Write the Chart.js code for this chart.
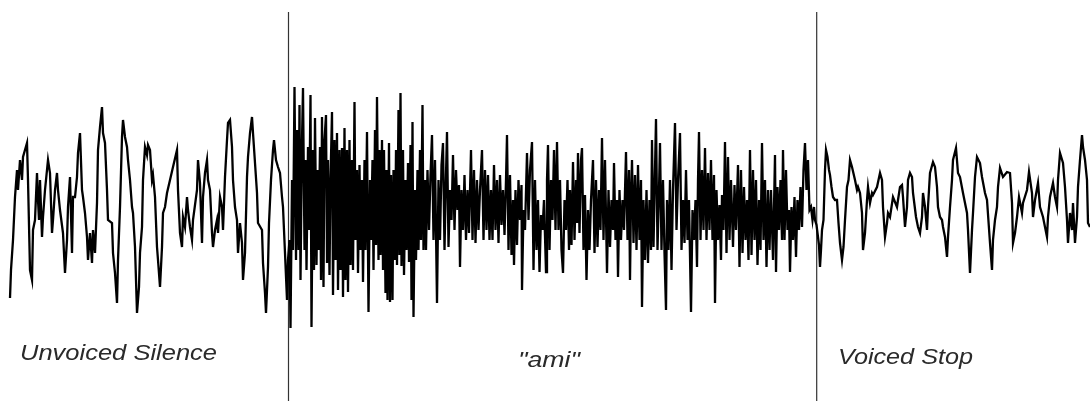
<!DOCTYPE html>
<html>
<head>
<meta charset="utf-8">
<script src="https://cdn.jsdelivr.net/npm/chart.js@4/dist/chart.umd.min.js"></script>
<style>
html,body{margin:0;padding:0;background:#fff;}
#wrap{width:1090px;height:401px;}
</style>
</head>
<body>
<div id="wrap"><canvas id="c" width="1090" height="401"></canvas></div>
<script>
// Segment labels and boundaries (time units)
const segmentLabels = ['Unvoiced Silence', '"ami"', 'Voiced Stop'];
const boundaries = [288.5, 816.7];

// Unvoiced silence
const silenceTime = [10,11,13,15,17,18,20,22,23,27,28,30,32,33,35,37,38,39,40,42,43,45,48,50,52,53,55,57,58,60,63,65,67,68,70,72,73,75,77,78,80,82,83,85,87,88,90,92,93,95,97,98,100,102,103,105,107,108,112,113,115,117,118,120,122,123,125,127,128,130,132,133,135,137,139,140,142,143,145,147,148,150,152,153,155,157,158,160,162,163,165,167,170,173,177,178,180,182,183,185,187,188,190,192,193,197,198,200,202,203,205,207,208,210,212,213,215,217,218,220,222,223,225,227,228,230,232,233,235,237,238,240,242,243,245,247,248,250,252,253,255,257,258,262,263,265,266,268,269,271,273,274,276,278,280,282,283,285,287,288];
const silenceAmp = [-98,-70,-40,3,30,10,40,20,43,57,20,-70,-80,-30,-20,27,0,-20,20,-37,-17,10,40,27,-33,-20,10,27,10,-10,-33,-73,-40,-7,23,-53,3,3,23,47,67,10,3,-13,-37,-60,-33,-63,-30,-53,-3,50,73,93,67,57,10,-20,-23,-53,-73,-103,-60,-7,63,80,63,53,40,20,-7,-13,-47,-113,-87,-53,-27,20,53,45,55,50,20,25,3,-47,-60,-87,-47,-13,-7,7,20,33,50,10,-33,-47,-17,-27,3,-10,-27,-40,-20,10,40,17,-43,3,27,40,20,10,-33,-47,-30,-20,-33,3,-7,-30,23,60,77,80,53,20,-7,-20,-53,-23,-43,-80,-53,23,43,67,83,67,37,7,-23,-30,-63,-93,-113,-67,-23,20,50,60,40,33,27,3,-7,-53,-100,-60];

// "ami"
const amiTime = [289.5,290.5,292,293,294.5,296,297,298.5,299.5,300.5,302,303,304.5,305.5,306.5,308,309,310.5,311.5,313,314,315,316.5,317.5,318.5,320,321,322,323.5,324.5,326,327,328,329.5,330.5,332,333,334.5,335.5,337,338,339.5,340.5,342,343,344.5,345.5,347,348,349.5,350.5,352,353,354.5,355.5,357,358,359.5,360.5,362,363,364.5,365.5,367,368.5,370,371,372.5,373.5,375,376,377,378.5,379.5,380.5,382,383,384,385.5,386.5,387.5,389,390,391,392.5,393.5,395,396,397,398.5,399.5,400.5,401.5,403,404,405.5,406.5,408,409,410.5,411.5,412.5,413.5,415,416,417.5,418.5,420,421,422.5,423.5,425,426,427.5,429,430.5,432,433.5,435,437,438.5,440,441.5,443,444.5,446,447,448.5,450,451.5,453,454.5,456,457.5,459,460,461.5,463,464.5,466,467.5,469,471,472.5,474,475.5,477,478.5,480,482,483.5,485,486.5,488,489.5,491,492.5,494,495.5,497,498.5,500,501.5,503,504.5,506,507,508.5,510,511.5,513,514,515.5,517,518.5,520,521.5,522,523.5,525,527,528.5,530,532,533.5,535,536.5,538,539.5,541,542.5,544,546,547,548,549.5,551,552.5,554,555.5,557,558.5,560,561.5,563,564.5,566,567.5,569,570,571.5,573,574.5,576,577,578,579.5,581,582,583.5,585,586.5,588,589.5,591,593,594.5,596,597.5,599,600.5,602,603.5,605,607,608.5,610,611.5,613,614,615.5,617,618,619.5,621,622.5,624,626,627.5,629,630,631,632,633.5,635,636.5,638,639.5,641,642,643.5,645,646.5,648,649.5,651,652,653.5,655,656,657.5,659,660,661.5,663,664.5,666,667,668.5,670,671.5,673,675,676.5,678,680,681.5,683,684.5,686,687.5,689,691,692.5,694,695.5,697,698,699,700.5,702,703.5,705,706.5,708,709.5,711,712.5,714,715,716.5,718,719.5,721,722,723.5,725,726.5,728,729.5,731,733,734.5,736,738,739.5,741,742.5,744,745.5,747,748.5,750,751.5,753,754.5,756,757.5,759,760.5,762,763.5,765,766.5,768,769.5,771,773,775,776,777.5,779,780.5,782,783,784.5,786,787.5,789,790,791.5,793,794.5,796,797.5,799,800.5,802,803.5,805,806.5,808,809.5,811,812.5,814,815,816.5];
const amiAmp = [-40,-128,20,-50,113,-60,70,-50,95,-80,60,112,-50,40,-70,53,-30,105,-127,50,-70,82,-65,30,-50,53,-80,83,-87,60,85,-63,40,-75,20,88,-95,60,-60,67,-90,50,-70,52,-97,72,-80,50,-92,60,-65,40,-70,98,-40,30,-73,35,-50,20,-82,40,-50,68,-112,20,-40,40,-70,70,-45,103,-60,50,-55,60,-70,50,-93,30,-100,57,-102,25,-100,30,-60,50,-65,90,-55,107,-66,50,-75,20,-50,37,-62,55,-100,78,-117,10,-60,30,-50,50,-40,95,-50,20,-50,30,-30,25,65,-40,40,-103,20,-40,35,57,-50,25,68,-47,10,-20,45,-30,30,-10,15,-67,10,-30,25,-40,10,-33,50,-40,30,-43,20,-30,10,50,-40,30,-30,25,-40,10,-40,35,-30,20,-43,25,-25,10,-35,20,65,-50,25,-55,0,-65,10,-45,20,-20,15,-90,-10,-30,47,-20,30,58,-70,20,-50,0,-72,-15,-30,0,-72,20,55,-50,20,-20,50,-30,58,-30,20,-50,-73,0,-30,20,-50,10,-45,38,-40,20,-23,47,-33,40,52,-50,5,-80,-10,-50,0,40,-53,20,-47,10,-30,62,-40,40,-73,10,-47,0,-30,37,-40,0,-77,10,-40,0,-30,48,-40,30,-80,0,40,-43,25,-50,35,-40,20,-107,0,-60,10,-63,0,-50,60,-47,30,81,-50,10,57,-50,20,-53,-110,0,-50,20,-70,10,77,-30,20,67,-50,0,-43,30,-40,0,-112,-10,-40,0,-67,20,68,-40,30,-30,52,-40,27,-30,40,-40,25,-103,10,-40,-5,-60,5,-30,58,-53,43,-40,20,-47,15,-30,35,-67,30,-53,13,-40,0,-60,50,-55,30,-40,20,-65,0,-50,57,-40,20,-67,10,-50,10,-60,45,-72,13,-30,20,-40,50,-40,30,-30,-10,-72,-7,-40,3,-57,0,-30,13,-27,30,57,10,40,-10,-7,-20,-7,-20,-25];

// Voiced stop
const stopTime = [817.5,819,820,821,822,823.5,825,826,827.5,829,830,831.5,833,835,837,838.5,840,842,843.5,845,847,848.5,850,852,855,857,858,860,862,863,865,867,868,870,872,873,877,880,882,883,885,887,888,890,893,897,898,900,902,903,905,907,908,910,912,913,916,918,920,922,923,925,927,928,930,933,935,937,938,940,942,943,945,947,948,950,952,953,956,958,960,963,967,968,970,972,973,975,977,980,982,985,987,990,992,993,995,997,998,1000,1003,1007,1010,1012,1013,1015,1017,1019,1022,1023,1027,1029,1032,1033,1035,1038,1040,1043,1047,1048,1050,1053,1055,1057,1058,1060,1063,1065,1067,1068,1070,1072,1073,1075,1077,1078,1080,1082,1083,1085,1087,1088,1090];
const stopAmp = [-33,-45,-67,-50,-30,-20,30,50,43,30,25,13,3,0,0,-23,-43,-60,-47,-20,13,20,40,33,20,10,13,7,-13,-50,-33,0,13,-3,7,5,13,27,20,-7,-37,-23,-13,-17,3,-7,0,13,15,3,-27,-7,20,27,23,7,-17,-27,-33,-17,7,-7,-30,-7,27,38,33,13,-7,-17,-20,-27,-37,-57,-37,-7,20,40,52,27,23,7,-13,-30,-73,-30,-13,23,43,37,23,7,0,-43,-70,-40,-20,-7,13,32,23,28,27,-3,-43,-33,-17,3,-13,-3,10,28,7,-17,0,17,-7,-17,-37,-17,3,17,3,-7,20,47,37,13,-20,-43,-13,-30,-3,-43,-17,13,40,65,53,40,20,-23,-27];

const waveTime = silenceTime.concat(amiTime, stopTime);
const waveAmp = silenceAmp.concat(amiAmp, stopAmp);
const wavePoints = waveTime.map((t, i) => ({x: t, y: waveAmp[i]}));

const labelPlugin = {
  id: 'segmentText',
  afterDraw(chart) {
    const ctx = chart.ctx;
    const xs = chart.scales.x, ys = chart.scales.y;
    ctx.save();
    ctx.fillStyle = '#2a2a2a';
    ctx.font = 'italic 22px "Liberation Sans", Arial, sans-serif';
    ctx.textBaseline = 'alphabetic';
    // [start, end, baseline] in chart units
    const pos = [[20, 217, -160], [518, 580, -167], [838, 973, -164]];
    segmentLabels.forEach((s, i) => {
      const x0 = xs.getPixelForValue(pos[i][0]);
      const x1 = xs.getPixelForValue(pos[i][1]);
      const y = ys.getPixelForValue(pos[i][2]);
      const w = ctx.measureText(s).width;
      ctx.save();
      ctx.translate(x0, y);
      ctx.scale((x1 - x0) / w, 1);
      ctx.fillText(s, 0, 0);
      ctx.restore();
    });
    ctx.restore();
  }
};

new Chart(document.getElementById('c'), {
  type: 'line',
  data: {
    datasets: [
      {data: wavePoints, borderColor: '#000', borderWidth: 2.3, pointRadius: 0, tension: 0, fill: false, borderJoinStyle: 'miter'},
      {data: [{x: boundaries[0], y: 188}, {x: boundaries[0], y: -201}], borderColor: '#333', borderWidth: 1.2, pointRadius: 0},
      {data: [{x: boundaries[1], y: 188}, {x: boundaries[1], y: -201}], borderColor: '#333', borderWidth: 1.2, pointRadius: 0}
    ]
  },
  options: {
    responsive: false,
    animation: false,
    layout: {padding: 0},
    plugins: {legend: {display: false}, tooltip: {enabled: false}},
    scales: {
      x: {type: 'linear', min: 0, max: 1090, display: false},
      y: {type: 'linear', min: -201, max: 200, display: false}
    }
  },
  plugins: [labelPlugin]
});
</script>
</body>
</html>
